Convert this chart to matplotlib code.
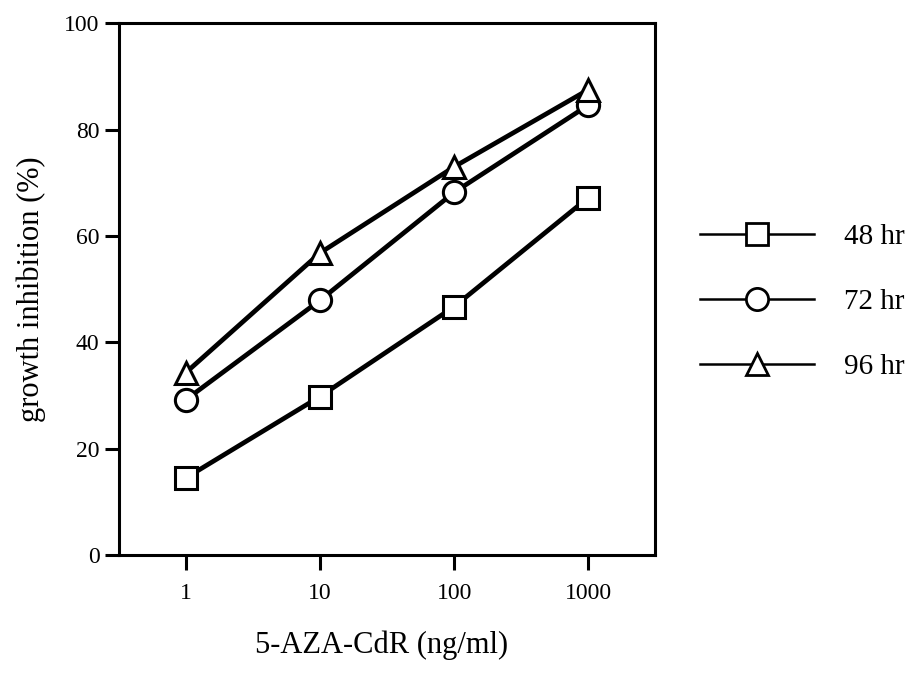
import matplotlib
matplotlib.use('Agg')
import matplotlib.pyplot as plt
from matplotlib.lines import Line2D

plt.rcParams['font.family'] = ['Liberation Serif', 'DejaVu Serif']

doses = ['1', '10', '100', '1000']
hr48 = [14.5, 29.8, 46.7, 67.2]
hr72 = [29.2, 47.9, 68.2, 84.6]
hr96 = [34.3, 56.8, 73.0, 87.5]
series_labels = ['48 hr', '72 hr', '96 hr']
markers = ['s', 'o', '^']

fig = plt.figure(figsize=(9.14, 6.96), dpi=100)
ax = fig.add_axes([0.130, 0.2026, 0.587, 0.764])

x = range(len(doses))
for vals, m in zip([hr48, hr72, hr96], markers):
    ax.plot(x, vals, color='black', lw=3.4, marker=m, ms=16,
            mfc='white', mec='black', mew=2.2, zorder=3)

ax.set_xlim(-0.5, 3.5)
ax.set_ylim(0, 100)
ax.set_xticks(list(x))
ax.set_xticklabels(doses)
ax.set_yticks([0, 20, 40, 60, 80, 100])
for s in ax.spines.values():
    s.set_linewidth(2.2)
ax.tick_params(axis='y', direction='out', length=10, width=2.2, labelsize=17, pad=4)
ax.tick_params(axis='x', direction='out', length=11, width=2.2, labelsize=17, pad=9)

fig.text(0.418, 0.073, '5-AZA-CdR (ng/ml)', ha='center', va='center', fontsize=22)
fig.text(0.034, 0.585, 'growth inhibition (%)', ha='center', va='center',
         rotation=90, fontsize=22)

handles = [Line2D([], [], color='black', lw=1.8, marker=m, ms=16,
                  mfc='white', mec='black', mew=2.0) for m in markers]
fig.legend(handles, series_labels, loc='center left',
           bbox_to_anchor=(0.753, 0.566), frameon=False, fontsize=21,
           handlelength=3.9, handletextpad=1.05, labelspacing=1.32,
           borderaxespad=0.0)

fig.savefig('out.png', dpi=100)
